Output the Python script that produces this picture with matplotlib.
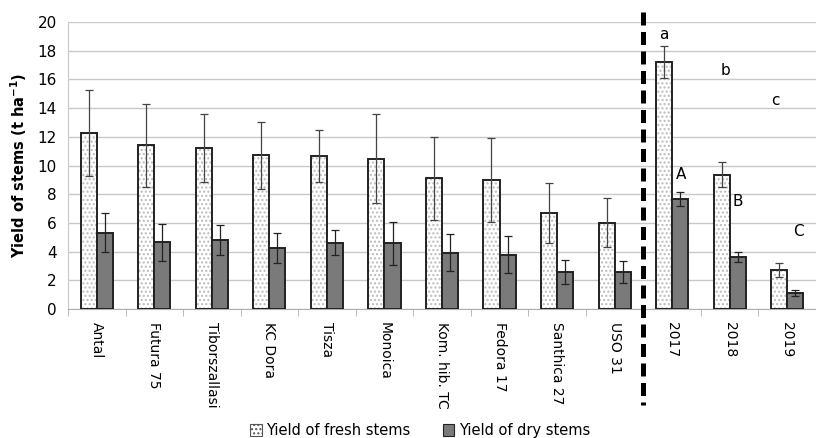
import matplotlib.pyplot as plt
from matplotlib.patches import Patch
import numpy as np

categories = ['Antal', 'Futura 75', 'Tiborszallasi', 'KC Dora', 'Tisza', 'Monoica',
              'Kom. hib. TC', 'Fedora 17', 'Santhica 27', 'USO 31', '2017', '2018', '2019']
fresh = [12.26, 11.42, 11.21, 10.70, 10.65, 10.47, 9.12, 8.98, 6.68, 6.02, 17.21, 9.37, 2.70]
fresh_err = [3.0, 2.9, 2.38, 2.34, 1.8, 3.1, 2.9, 2.95, 2.1, 1.7, 1.1, 0.87, 0.48]
dry = [5.33, 4.65, 4.81, 4.23, 4.63, 4.58, 3.93, 3.79, 2.60, 2.60, 7.65, 3.65, 1.09]
dry_err = [1.33, 1.28, 1.06, 1.05, 0.87, 1.5, 1.3, 1.3, 0.83, 0.77, 0.48, 0.35, 0.2]
fresh_letters = ['a', 'b', 'c']
fresh_letter_y = [19.1, 16.6, 14.5]
dry_letters = ['A', 'B', 'C']
dry_letter_y = [9.4, 7.5, 5.4]

fig = plt.figure(figsize=(8.16, 4.38), dpi=100)
ax = fig.add_axes([68/816, 1-309/438, 1-68/816, (309-22)/438])

x = np.arange(len(categories))
w = 0.28
# fresh bars: dotted fill + black outline drawn separately
ax.bar(x - w/2, fresh, w, color='white', hatch='....', edgecolor='#bbbbbb', linewidth=0, zorder=2)
ax.bar(x - w/2, fresh, w, fill=False, edgecolor='#222222', linewidth=1.4, zorder=3)
ax.bar(x + w/2, dry, w, color='#7a7a7a', edgecolor='#222222', linewidth=1.4, zorder=3)
ax.errorbar(x - w/2, fresh, yerr=fresh_err, fmt='none', ecolor='#444444', elinewidth=0.9, capsize=3, capthick=0.9, zorder=4)
ax.errorbar(x + w/2, dry, yerr=dry_err, fmt='none', ecolor='#222222', elinewidth=0.9, capsize=3, capthick=0.9, zorder=4)

# letters for the years (fresh: lowercase, dry: uppercase)
fresh_dx = [-0.145, -0.08, -0.21]
for i, (l, yv) in enumerate(zip(fresh_letters, fresh_letter_y)):
    ax.text(10 + i + fresh_dx[i], yv, l, ha='center', va='center', fontsize=11)
dry_dx = [0.15, 0.14, 0.19]
for i, (l, yv) in enumerate(zip(dry_letters, dry_letter_y)):
    ax.text(10 + i + dry_dx[i], yv, l, ha='center', va='center', fontsize=11)

# dashed separator between cultivars and years
ax.plot([9.5, 9.5], [20.7, -6.7], color='black', lw=3.6, ls=(0, (2.6, 1.3)), clip_on=False, zorder=5)

ax.set_xlim(-0.5, 12.32)
ax.set_ylim(0, 20)
ax.set_yticks(np.arange(0, 21, 2))
ax.yaxis.grid(True, color='#c8c8c8', lw=1.0, zorder=0)
ax.set_axisbelow(True)
ax.tick_params(axis='y', length=0, labelsize=11, pad=8)

ax.set_xticks(x)
ax.set_xticklabels(categories, rotation=270, fontsize=10)
ax.tick_params(axis='x', which='major', length=0, pad=9)
ax.set_xticks(np.arange(-0.5, 12.6, 1), minor=True)
ax.tick_params(axis='x', which='minor', length=5, color='#b0b0b0')

for s in ['top', 'right']:
    ax.spines[s].set_visible(False)
ax.spines['left'].set_color('#c8c8c8')
ax.spines['bottom'].set_color('#b0b0b0')

ax.set_ylabel('Yield of stems (t ha$^{\\mathregular{-1}}$)', fontsize=10.5, fontweight='bold', labelpad=6)

h1 = Patch(facecolor='white', hatch='....', edgecolor='#555555', linewidth=0.8)
h2 = Patch(facecolor='#7a7a7a', edgecolor='#222222', linewidth=0.8)
fig.legend([h1, h2], ['Yield of fresh stems', 'Yield of dry stems'], loc='lower center',
           bbox_to_anchor=(0.515, -0.03), ncol=2, frameon=False, fontsize=10.5,
           handlelength=0.8, handleheight=0.8, handletextpad=0.3, columnspacing=2.2)

fig.savefig('out.png', dpi=100)
